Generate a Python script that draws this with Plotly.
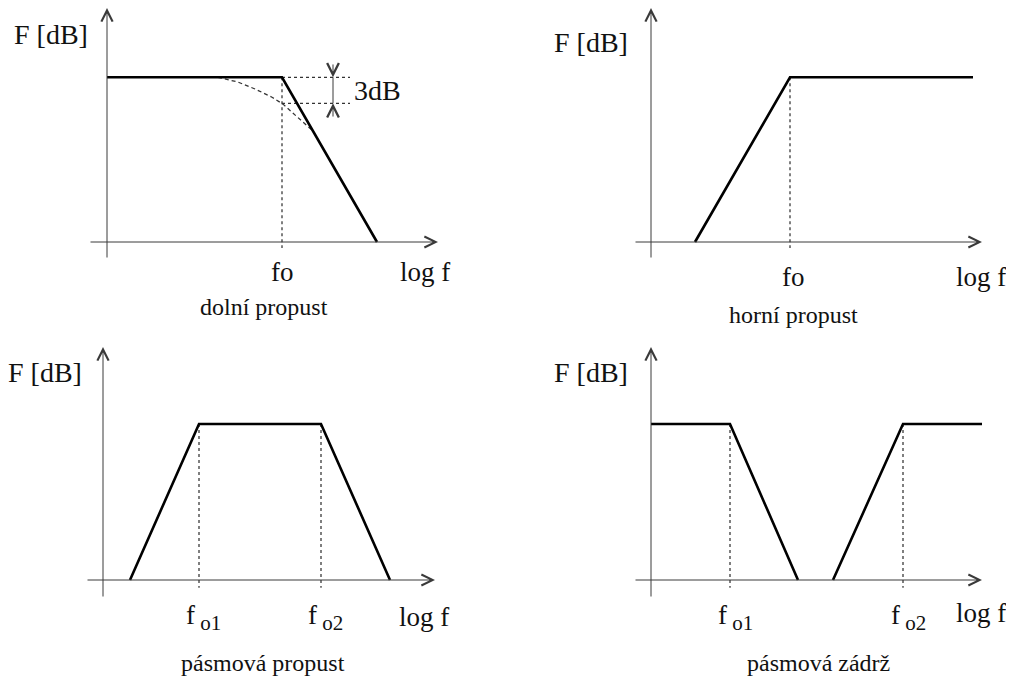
import plotly.graph_objects as go

# ---------------- data (x = log f units, y = dB) ----------------
# dolní propust (low pass)
lp_x = [0.0, 1.75, 2.70]
lp_y = [19.0, 19.0, 0.0]
lp_fo = 1.75
lp_curve_x = [1.11, 1.31, 1.48, 1.65, 1.76, 1.88, 2.00, 2.05]
lp_curve_y = [19.0, 18.45, 17.65, 16.7, 15.9, 14.65, 13.5, 12.9]
lp_level = 19.0
lp_drop = 3.0

# horní propust (high pass)
hp_x = [0.44, 1.39, 3.22]
hp_y = [0.0, 19.0, 19.0]
hp_fo = 1.39

# pásmová propust (band pass)
bp_x = [0.27, 0.96, 2.18, 2.87]
bp_y = [0.0, 18.0, 18.0, 0.0]
bp_fo = [0.96, 2.18]

# pásmová zádrž (band stop)
bs_x = [0.0, 0.79, 1.47, None, 1.82, 2.52, 3.31]
bs_y = [18.0, 18.0, 0.0, None, 0.0, 18.0, 18.0]
bs_fo = [0.79, 2.52]

titles = ["dolní propust", "horní propust", "pásmová propust", "pásmová zádrž"]
y_label = "F [dB]"
x_label = "log f"
SUB = "<sub><span style='font-size:21px'> %s</span></sub>"
fo_labels = ["fo", "fo", ["f" + SUB % "o1", "f" + SUB % "o2"], ["f" + SUB % "o1", "f" + SUB % "o2"]]

# ---------------- layout geometry ----------------
SW, SH = 1014, 676          # screen size
OFF = 8                     # default page body margin
FW, FH = SW - OFF, SH - OFF  # figure size
SX, SY = 100.0, 8.67  # pixels per unit
FONT = "Liberation Serif"
LINE = "#000000"
AXC = "#3a3a3a"
DASHC = "#333333"

# origin pixel of each panel (screen), panel box (screen)
panels = [
    dict(o=(107, 242), box=(OFF, 507, OFF, 338), xa=(89, 438), ya=(259, 8)),
    dict(o=(651, 242), box=(507, SW, OFF, 338), xa=(634, 982), ya=(259, 8)),
    dict(o=(103, 580), box=(OFF, 507, 338, SH), xa=(86, 435), ya=(598, 347)),
    dict(o=(651, 580), box=(507, SW, 338, SH), xa=(634, 982), ya=(598, 347)),
]

fig = go.Figure()
layout = dict(width=FW, height=FH, margin=dict(l=0, r=0, t=0, b=0),
              paper_bgcolor="white", plot_bgcolor="white", showlegend=False)
annotations = []
shapes = []


def dx(p, px):
    return (px - p["o"][0]) / SX


def dy(p, py):
    return (p["o"][1] - py) / SY


def arrow(p, x, y, ax, ay, size=2.2):
    annotations.append(dict(x=x, y=y, ax=ax, ay=ay, xref=p["xr"], yref=p["yr"],
                            axref=p["xr"], ayref=p["yr"], text="", showarrow=True,
                            arrowhead=5, arrowsize=size, arrowwidth=1, arrowcolor=AXC))


for i, p in enumerate(panels):
    n = "" if i == 0 else str(i + 1)
    x0, x1, y0, y1 = p["box"]
    layout["xaxis" + n] = dict(domain=[(x0 - OFF) / FW, (x1 - OFF) / FW],
                               range=[dx(p, x0), dx(p, x1)],
                               visible=False, anchor="y" + n, fixedrange=True)
    layout["yaxis" + n] = dict(domain=[1 - (y1 - OFF) / FH, 1 - (y0 - OFF) / FH],
                               range=[dy(p, y1), dy(p, y0)],
                               visible=False, anchor="x" + n, fixedrange=True)
    p["xr"], p["yr"] = "x" + n, "y" + n
    # axes with arrows
    arrow(p, dx(p, p["xa"][1]), 0, dx(p, p["xa"][0]), 0)
    arrow(p, 0, dy(p, p["ya"][1]), 0, dy(p, p["ya"][0]))


def dashed(p, xs, ys, dash="3px,3px"):
    fig.add_trace(go.Scatter(x=xs, y=ys, mode="lines", xaxis=p["xr"], yaxis=p["yr"],
                             line=dict(color=DASHC, width=1.25, dash=dash), hoverinfo="skip"))


def solid(p, xs, ys):
    fig.add_trace(go.Scatter(x=xs, y=ys, mode="lines", xaxis=p["xr"], yaxis=p["yr"],
                             line=dict(color=LINE, width=2.6), hoverinfo="skip",
                             connectgaps=False))


def text(p, x, y, s, size, xanchor="center", color="#111"):
    annotations.append(dict(x=x, y=y, xref=p["xr"], yref=p["yr"], text=s, showarrow=False,
                            xanchor=xanchor, yanchor="middle",
                            font=dict(family=FONT, size=size, color=color)))


# ---- panel 1: low pass
p = panels[0]
dashed(p, [lp_fo, lp_fo], [lp_level, -0.7])
dashed(p, lp_curve_x, lp_curve_y, dash="4px,3px")
dashed(p, [lp_fo, 2.43], [lp_level, lp_level])
dashed(p, [lp_fo, 2.43], [lp_level - lp_drop, lp_level - lp_drop])
solid(p, lp_x, lp_y)
xm = 2.26
arrow(p, xm, lp_level, xm, lp_level + 1.65, size=2.3)
arrow(p, xm, lp_level - lp_drop, xm, lp_level - lp_drop - 1.7, size=2.3)
shapes.append(dict(type="line", xref=p["xr"], yref=p["yr"], x0=xm, x1=xm,
                   y0=lp_level - lp_drop, y1=lp_level, line=dict(color=AXC, width=1)))
text(p, 2.45, 17.5, "%ddB" % lp_drop, 28, xanchor="left")
text(p, -0.17, dy(p, 34), y_label, 28, xanchor="right")
text(p, lp_fo, dy(p, 272), fo_labels[0], 27)
text(p, dx(p, 425), dy(p, 272), x_label, 27)
text(p, dx(p, 264), dy(p, 307), titles[0], 24)

# ---- panel 2: high pass
p = panels[1]
dashed(p, [hp_fo, hp_fo], [hp_y[1], -0.7])
solid(p, hp_x, hp_y)
text(p, -0.21, dy(p, 42), y_label, 28, xanchor="right")
text(p, hp_fo + 0.03, dy(p, 277), fo_labels[1], 27)
text(p, dx(p, 981), dy(p, 277), x_label, 27)
text(p, dx(p, 793), dy(p, 315), titles[1], 24)

# ---- panel 3: band pass
p = panels[2]
for f in bp_fo:
    dashed(p, [f, f], [bp_y[1], -0.9])
solid(p, bp_x, bp_y)
text(p, -0.19, dy(p, 372), y_label, 28, xanchor="right")
for f, s in zip(bp_fo, fo_labels[2]):
    text(p, f + 0.04, dy(p, 617), s, 27)
text(p, dx(p, 424), dy(p, 617), x_label, 27)
text(p, dx(p, 263), dy(p, 663), titles[2], 24)

# ---- panel 4: band stop
p = panels[3]
for f in bs_fo:
    dashed(p, [f, f], [bs_y[0], -0.9])
solid(p, bs_x, bs_y)
text(p, -0.21, dy(p, 372), y_label, 28, xanchor="right")
for f, s in zip(bs_fo, fo_labels[3]):
    text(p, f + 0.05, dy(p, 617), s, 27)
text(p, dx(p, 981), dy(p, 613), x_label, 27)
text(p, dx(p, 818), dy(p, 663), titles[3], 24)

layout["annotations"] = annotations
layout["shapes"] = shapes
fig.update_layout(**layout)
fig.write_html("out.html", config={"displayModeBar": False})
